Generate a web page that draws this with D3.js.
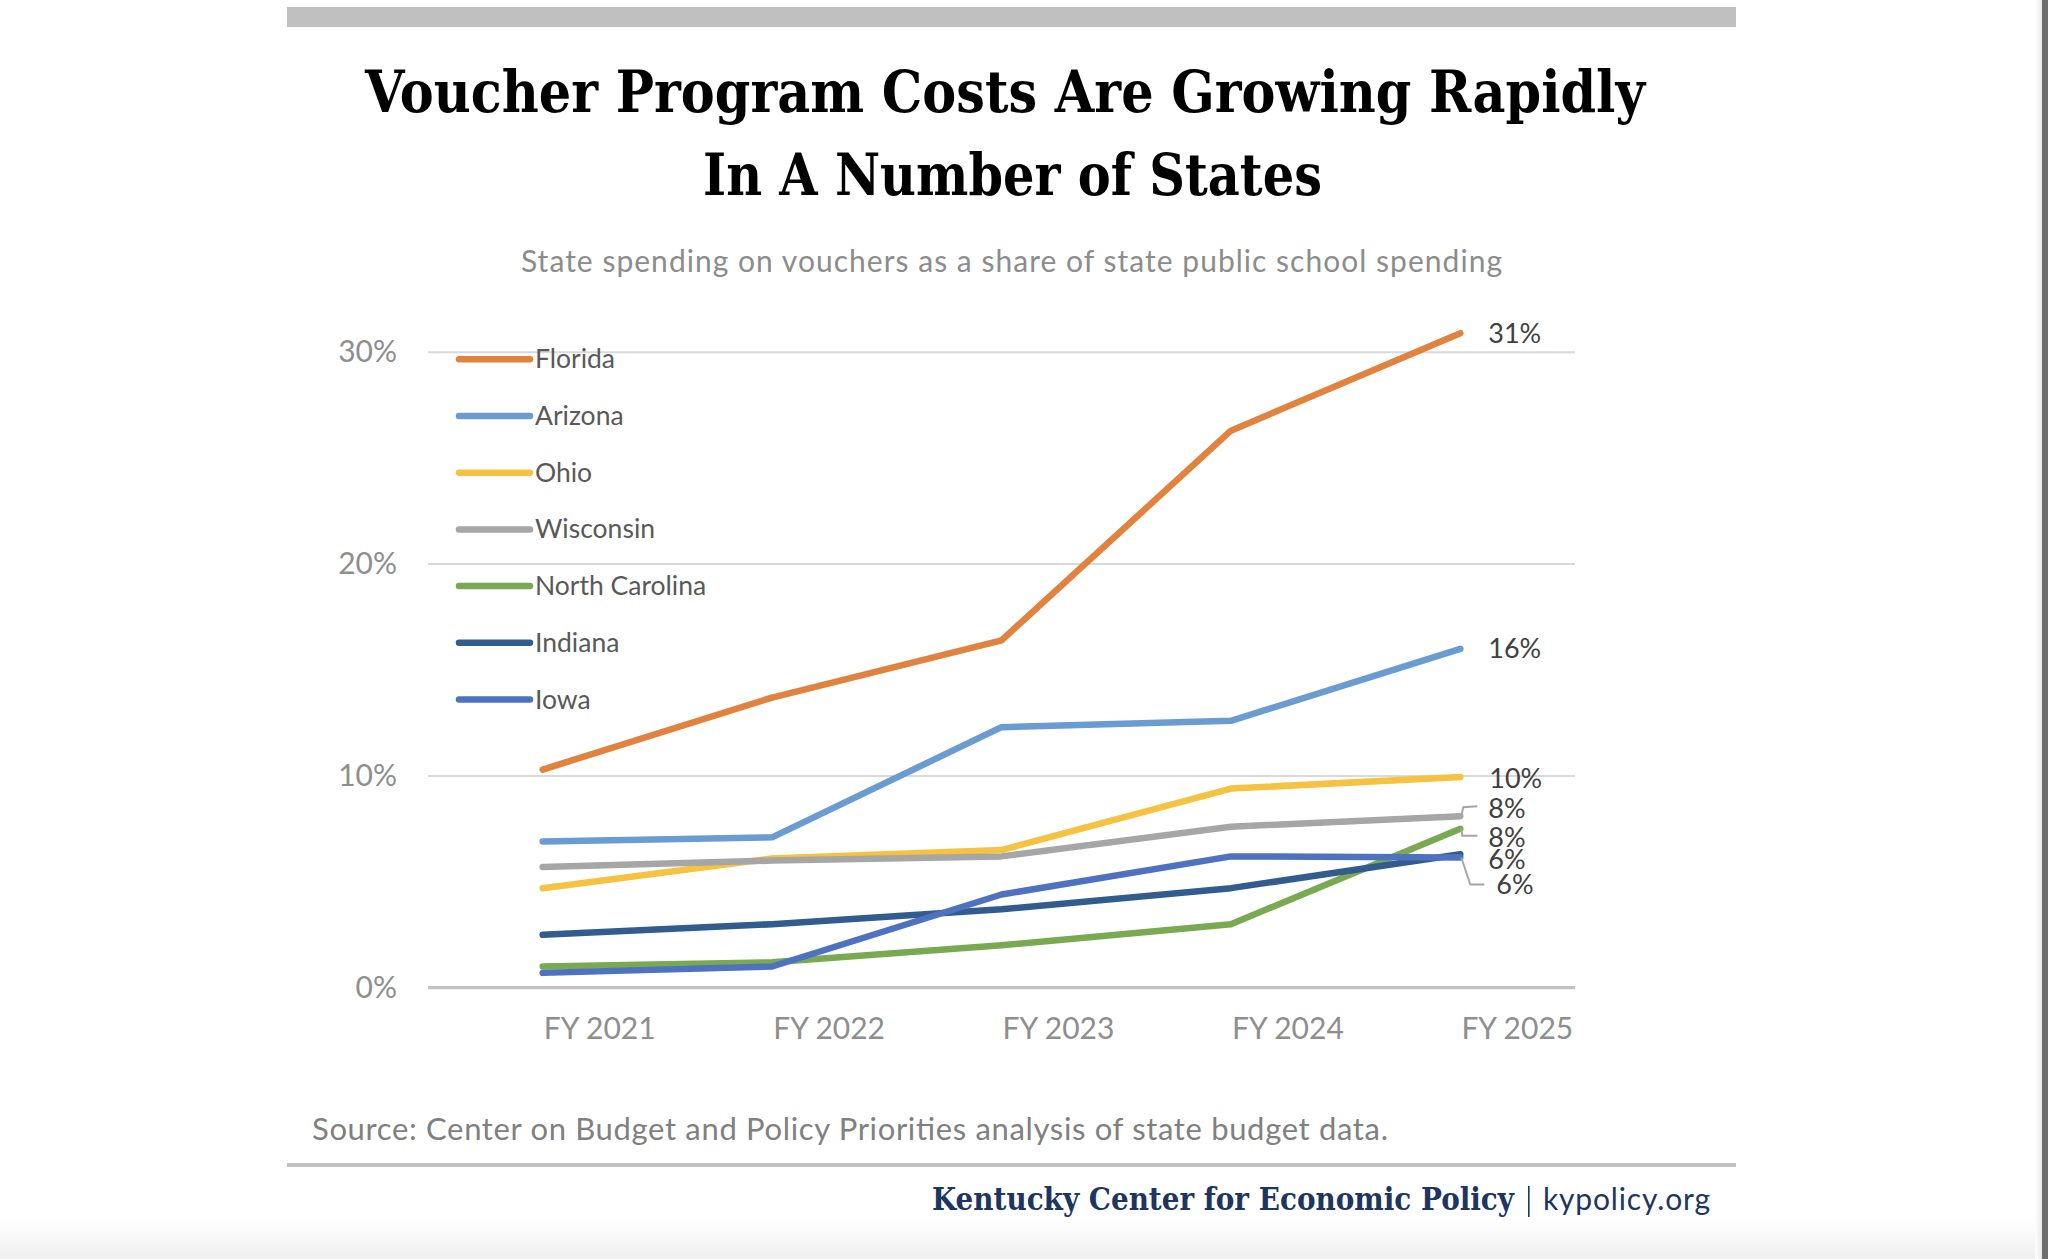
<!DOCTYPE html>
<html>
<head>
<meta charset="utf-8">
<script src="https://cdn.jsdelivr.net/npm/d3@7"></script>
<style>
  body { margin: 0; background: #fff; }
  svg { display: block; }
</style>
</head>
<body>
<svg width="2048" height="1259"></svg>
<script>
// values, share of state public school spending (%)
var years = ["FY 2021", "FY 2022", "FY 2023", "FY 2024", "FY 2025"];
var states = ["Florida", "Arizona", "Ohio", "Wisconsin", "North Carolina", "Indiana", "Iowa"];
var florida = [10.3, 13.7, 16.4, 26.3, 30.9];
var arizona = [6.9, 7.1, 12.3, 12.6, 16.0];
var ohio = [4.7, 6.1, 6.5, 9.4, 9.95];
var wisconsin = [5.7, 6.0, 6.2, 7.6, 8.1];
var northCarolina = [1.0, 1.2, 2.0, 3.0, 7.5];
var indiana = [2.5, 3.0, 3.7, 4.7, 6.3];
var iowa = [0.7, 1.0, 4.4, 6.2, 6.15];
var yTicks = [0, 10, 20, 30];

var series = [florida, arizona, ohio, wisconsin, northCarolina, indiana, iowa];
var colors = ["#e1823f", "#6a9cd2", "#f5c242", "#a6a6a6", "#79aa52", "#315c8d", "#4e72c0"];

// end label nudges (baseline offset from last point) and leader lines
var labelNudge = [
  {dx: 28, dy: 9.5}, {dx: 28, dy: 9.5}, {dx: 29, dy: 11.5},
  {dx: 28, dy: 1.5, leader: [[1, 0], [3, -9], [17, -10]]},
  {dx: 28, dy: 18, leader: [[1, 0], [2, 7], [17, 7]]},
  {dx: 28, dy: 14.5},
  {dx: 36, dy: 37, leader: [[1, 0], [10, 27], [24, 27]]}
];

var svg = d3.select("svg");
var sans = "Lato, 'Open Sans', sans-serif";
var serif = "'DejaVu Serif', serif";

// ---------- page furniture ----------
var defs = svg.append("defs");
var fade = defs.append("linearGradient").attr("id", "fade").attr("x1", 0).attr("y1", 0).attr("x2", 0).attr("y2", 1);
fade.append("stop").attr("offset", "0%").attr("stop-color", "#ffffff");
fade.append("stop").attr("offset", "100%").attr("stop-color", "#efefef");
var edge = defs.append("linearGradient").attr("id", "edge");
edge.append("stop").attr("offset", "0%").attr("stop-color", "#ffffff");
edge.append("stop").attr("offset", "100%").attr("stop-color", "#e6e6e6");

svg.append("rect").attr("x", 0).attr("y", 1218).attr("width", 2048).attr("height", 41).attr("fill", "url(#fade)");
svg.append("rect").attr("x", 2035).attr("y", 0).attr("width", 8).attr("height", 1259).attr("fill", "url(#edge)");
svg.append("rect").attr("x", 2042).attr("y", 0).attr("width", 6).attr("height", 1259).attr("fill", "#6e6e6e");

svg.append("rect").attr("x", 287).attr("y", 7).attr("width", 1449).attr("height", 20).attr("fill", "#c0c0c0");
svg.append("rect").attr("x", 287).attr("y", 1163).attr("width", 1449).attr("height", 4).attr("fill", "#c3c3c3");

svg.append("text").attr("x", 365).attr("y", 111.5)
  .attr("textLength", 1280).attr("lengthAdjust", "spacingAndGlyphs")
  .style("font-family", serif).style("font-weight", "bold").style("font-size", "58px").style("fill", "#000")
  .text("Voucher Program Costs Are Growing Rapidly");
svg.append("text").attr("x", 703).attr("y", 195)
  .attr("textLength", 619).attr("lengthAdjust", "spacingAndGlyphs")
  .style("font-family", serif).style("font-weight", "bold").style("font-size", "58px").style("fill", "#000")
  .text("In A Number of States");

svg.append("text").attr("x", 521).attr("y", 272).attr("textLength", 981)
  .style("font-family", sans).style("font-size", "30px").style("fill", "#8c8c8c")
  .text("State spending on vouchers as a share of state public school spending");

svg.append("text").attr("x", 312).attr("y", 1140).attr("textLength", 1076)
  .style("font-family", sans).style("font-size", "31px").style("fill", "#808080")
  .text("Source: Center on Budget and Policy Priorities analysis of state budget data.");

svg.append("text").attr("x", 932).attr("y", 1210)
  .attr("textLength", 582).attr("lengthAdjust", "spacingAndGlyphs")
  .style("font-family", serif).style("font-weight", "bold").style("font-size", "31px").style("fill", "#1d3661")
  .text("Kentucky Center for Economic Policy");
svg.append("rect").attr("x", 1528).attr("y", 1186).attr("width", 1.6).attr("height", 31).attr("fill", "#1d3661");
svg.append("text").attr("x", 1543).attr("y", 1210).attr("textLength", 167)
  .style("font-family", sans).style("font-size", "30px").style("fill", "#1d3661")
  .text("kypolicy.org");

// ---------- chart ----------
var x = d3.scaleBand().domain(years).range([428, 1575]);
var y = d3.scaleLinear().domain([0, 30]).range([987.7, 352.3]);
var cx = function(d) { return x(d) + x.bandwidth() / 2; };

svg.append("g").selectAll("line").data(yTicks).enter().append("line")
  .attr("x1", 428).attr("x2", 1575)
  .attr("y1", function(d) { return y(d); }).attr("y2", function(d) { return y(d); })
  .attr("stroke", function(d) { return d === 0 ? "#c4c4c4" : "#d9d9d9"; })
  .attr("stroke-width", function(d) { return d === 0 ? 3.2 : 2; });

var yAxis = svg.append("g").attr("transform", "translate(428,0)")
  .call(d3.axisLeft(y).tickValues(yTicks).tickSize(0).tickPadding(31).tickFormat(function(d) { return d + "%"; }));
yAxis.select(".domain").remove();
yAxis.selectAll("text").style("font-family", sans).style("font-size", "30px").style("fill", "#8e8e8e");

var xAxis = svg.append("g").attr("transform", "translate(0,987.7)")
  .call(d3.axisBottom(x).tickSize(0).tickPadding(0));
xAxis.select(".domain").remove();
xAxis.selectAll("text").attr("x", 57).attr("y", 51.5).attr("dy", null)
  .style("font-family", sans).style("font-size", "30px").style("fill", "#8e8e8e");

var line = d3.line()
  .x(function(d, i) { return cx(years[i]); })
  .y(function(d) { return y(d); });

svg.append("g").selectAll("path").data(series).enter().append("path")
  .attr("d", line)
  .attr("fill", "none")
  .attr("stroke", function(d, i) { return colors[i]; })
  .attr("stroke-width", 6.5)
  .attr("stroke-linecap", "round")
  .attr("stroke-linejoin", "round");

// end labels
var last = cx(years[years.length - 1]);
series.forEach(function(s, i) {
  var v = s[s.length - 1], py = y(v), n = labelNudge[i];
  if (n.leader) {
    svg.append("path")
      .attr("d", d3.line()(n.leader.map(function(p) { return [last + p[0], py + p[1]]; })))
      .attr("fill", "none").attr("stroke", "#a6a6a6").attr("stroke-width", 2);
  }
  svg.append("text").attr("x", last + n.dx).attr("y", py + n.dy)
    .style("font-family", sans).style("font-size", "27px").style("fill", "#404040")
    .text(Math.round(v) + "%");
});

// legend, drawn inside the plot area
var legend = svg.append("g").selectAll("g").data(states).enter().append("g")
  .attr("transform", function(d, i) { return "translate(459," + (359.3 + i * 56.7) + ")"; });
legend.append("line").attr("x1", 0).attr("x2", 71)
  .attr("stroke", function(d, i) { return colors[i]; })
  .attr("stroke-width", 6.5).attr("stroke-linecap", "round");
legend.append("text").attr("x", 76).attr("y", 9)
  .style("font-family", sans).style("font-size", "26.5px").style("fill", "#595959")
  .text(function(d) { return d; });
</script>
</body>
</html>
